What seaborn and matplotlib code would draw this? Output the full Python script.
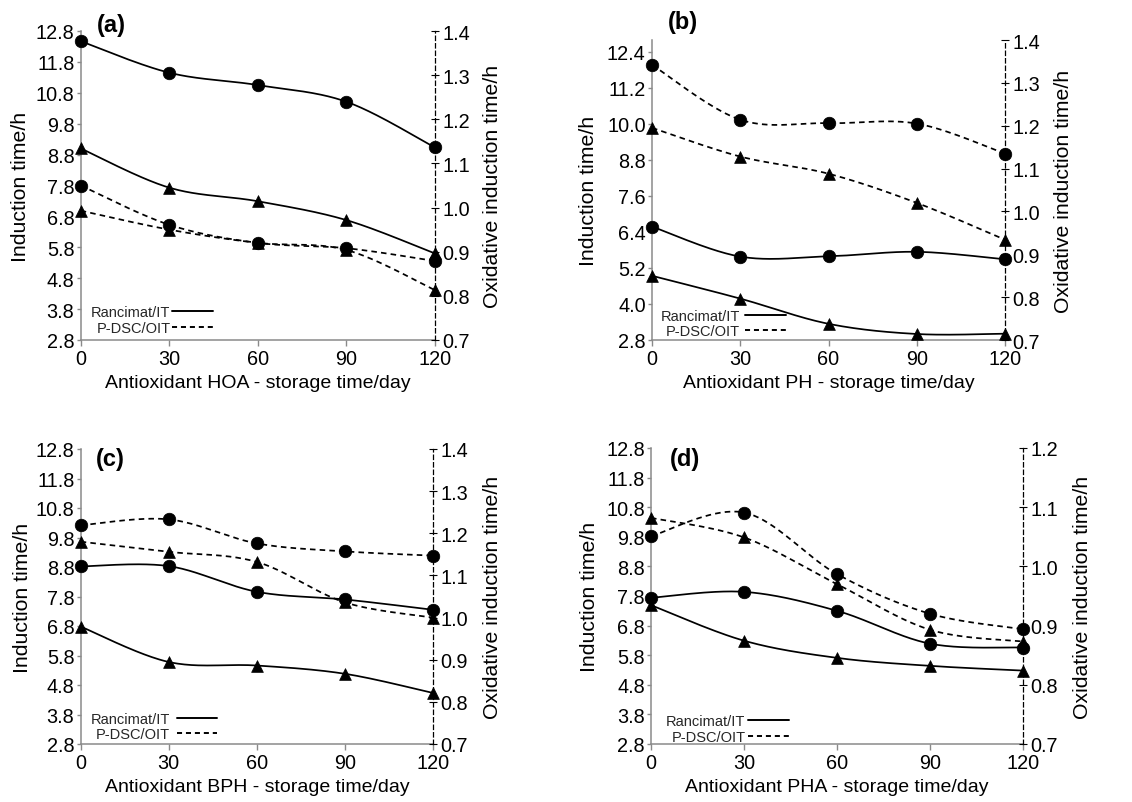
import numpy as np
import matplotlib
matplotlib.use("Agg")
import matplotlib.pyplot as plt
import seaborn as sns
from matplotlib.lines import Line2D
from matplotlib.ticker import FormatStrFormatter

# ---------------- data ----------------
days = [0, 30, 60, 90, 120]

# (a) Antioxidant HOA
hoa_it_circle = [12.47, 11.45, 11.05, 10.51, 9.03]
hoa_it_triangle = [9.00, 7.73, 7.29, 6.68, 5.60]
hoa_oit_circle = [1.050, 0.961, 0.920, 0.908, 0.879]
hoa_oit_triangle = [0.993, 0.950, 0.920, 0.904, 0.813]

# (b) Antioxidant PH
ph_it_circle = [6.58, 5.58, 5.59, 5.74, 5.49]
ph_it_triangle = [4.94, 4.18, 3.34, 3.00, 3.01]
ph_oit_circle = [1.342, 1.214, 1.206, 1.205, 1.135]
ph_oit_triangle = [1.195, 1.128, 1.088, 1.020, 0.934]

# (c) Antioxidant BPH
bph_it_circle = [8.82, 8.83, 7.96, 7.70, 7.35]
bph_it_triangle = [6.78, 5.58, 5.46, 5.18, 4.53]
bph_oit_circle = [1.219, 1.233, 1.176, 1.157, 1.147]
bph_oit_triangle = [1.180, 1.156, 1.132, 1.036, 1.000]

# (d) Antioxidant PHA
pha_it_circle = [7.74, 7.94, 7.30, 6.19, 6.06]
pha_it_triangle = [7.49, 6.29, 5.71, 5.44, 5.28]
pha_oit_circle = [1.051, 1.091, 0.987, 0.920, 0.894]
pha_oit_triangle = [1.082, 1.049, 0.970, 0.893, 0.873]

panel_letters = ["(a)", "(b)", "(c)", "(d)"]
xlabels = ["Antioxidant HOA - storage time/day",
           "Antioxidant PH - storage time/day",
           "Antioxidant BPH - storage time/day",
           "Antioxidant PHA - storage time/day"]
left_label = "Induction time/h"
right_label = "Oxidative induction time/h"
legend_labels = ["Rancimat/IT", "P-DSC/OIT"]

left_ticks_std = [2.8, 3.8, 4.8, 5.8, 6.8, 7.8, 8.8, 9.8, 10.8, 11.8, 12.8]
left_ticks_b = [2.8, 4.0, 5.2, 6.4, 7.6, 8.8, 10.0, 11.2, 12.4]
right_ticks_std = [0.7, 0.8, 0.9, 1.0, 1.1, 1.2, 1.3, 1.4]
right_ticks_d = [0.7, 0.8, 0.9, 1.0, 1.1, 1.2]

# ---------------- style ----------------
sns.set_theme(style="ticks")
plt.rcParams["font.family"] = ["Liberation Sans", "DejaVu Sans"]

TICK_FS = 14.3
XLABEL_FS = 14
YLABEL_FS = 15.3
LEG_FS = 10.5
GRAY = "#8a8a8a"
DASH = (0, (3.2, 2.4))


def smooth_curve(x, y, n=40):
    """Spreadsheet-style smoothed line (cubic Bezier through the points)."""
    P = np.column_stack([np.asarray(x, float), np.asarray(y, float)])
    E = np.vstack([P[0], P, P[-1]])
    t = np.linspace(0, 1, n)[:, None]
    segs = []
    for i in range(len(P) - 1):
        p0, p3 = P[i], P[i + 1]
        c1 = p0 + (E[i + 2] - E[i]) / 6.0
        c2 = p3 - (E[i + 3] - E[i + 1]) / 6.0
        seg = ((1 - t) ** 3) * p0 + 3 * ((1 - t) ** 2) * t * c1 \
            + 3 * (1 - t) * t ** 2 * c2 + t ** 3 * p3
        segs.append(seg if i == 0 else seg[1:])
    return np.vstack(segs)


def draw_series(ax, vals, marker, ls):
    c = smooth_curve(days, vals)
    sns.lineplot(x=c[:, 0], y=c[:, 1], ax=ax, sort=False, estimator=None,
                 color="black", linewidth=1.25, linestyle=ls, zorder=3)
    sns.scatterplot(x=days, y=vals, ax=ax, marker=marker,
                    s=82 if marker == "o" else 72, color="black",
                    edgecolor="black", linewidth=0.5, clip_on=False, zorder=5)


fig = plt.figure(figsize=(11.32, 8.03), dpi=100)
W, H = 1132.0, 803.0

# pixel boxes: left, right, top, bottom
boxes = [(80.7, 435.0, 32.0, 341.0),
         (652.0, 1005.0, 41.0, 341.0),
         (80.7, 433.0, 450.0, 745.0),
         (651.0, 1023.0, 449.0, 745.0)]

it_circles = [hoa_it_circle, ph_it_circle, bph_it_circle, pha_it_circle]
it_tris = [hoa_it_triangle, ph_it_triangle, bph_it_triangle, pha_it_triangle]
oit_circles = [hoa_oit_circle, ph_oit_circle, bph_oit_circle, pha_oit_circle]
oit_tris = [hoa_oit_triangle, ph_oit_triangle, bph_oit_triangle, pha_oit_triangle]

left_ticks = [left_ticks_std, left_ticks_b, left_ticks_std, left_ticks_std]
right_ticks = [right_ticks_std, right_ticks_std, right_ticks_std, right_ticks_d]
right_lims = [(0.7, 1.4), (0.7, 1.4), (0.7, 1.4), (0.7, 1.2)]

letter_pos = [(0.046, 1.02), (0.045, 1.06), (0.043, 0.969), (0.051, 0.966)]
legend_pos = [(0.201, 0.065), (0.201, 0.055), (0.208, 0.059), (0.206, 0.051)]
legend_pad = [0.1, 0.35, 0.45, 0.2]
ylab_left_x = [-0.143, -0.153, -0.138, -0.140]
ylab_right_x = [1.135, 1.139, 1.142, 1.134]

for k in range(4):
    l, r, t, b = boxes[k]
    ax = fig.add_axes([l / W, (H - b) / H, (r - l) / W, (b - t) / H])
    ax2 = ax.twinx()

    draw_series(ax, it_circles[k], "o", "-")
    draw_series(ax, it_tris[k], "^", "-")
    draw_series(ax2, oit_circles[k], "o", DASH)
    draw_series(ax2, oit_tris[k], "^", DASH)

    ax.set_xlim(0, 120)
    ax.set_ylim(2.8, 12.8)
    ax2.set_ylim(*right_lims[k])
    ax.set_xticks(days)
    ax.set_yticks(left_ticks[k])
    ax2.set_yticks(right_ticks[k])
    ax.yaxis.set_major_formatter(FormatStrFormatter("%.1f"))
    ax2.yaxis.set_major_formatter(FormatStrFormatter("%.1f"))

    for s in ["top", "right"]:
        ax.spines[s].set_visible(False)
    for s in ["top", "left", "bottom"]:
        ax2.spines[s].set_visible(False)
    for s in ["left", "bottom"]:
        ax.spines[s].set_color(GRAY)
        ax.spines[s].set_linewidth(1.1)
    ax2.spines["right"].set_linestyle((0, (3.5, 2.5)))
    ax2.spines["right"].set_linewidth(0.9)
    ax2.spines["right"].set_color("black")

    ax.tick_params(axis="y", direction="out", length=3, width=1, color=GRAY,
                   pad=1.5, labelsize=TICK_FS, labelcolor="black")
    ax.tick_params(axis="x", direction="out", length=4, width=1, color=GRAY,
                   pad=2.5, labelsize=TICK_FS, labelcolor="black")
    ax2.tick_params(axis="y", direction="inout", length=6, width=0.8,
                    color="black", pad=2.5, labelsize=TICK_FS,
                    labelcolor="black")

    ax.set_xlabel(xlabels[k], fontsize=XLABEL_FS, labelpad=4, color="black")
    ax.set_ylabel(left_label, fontsize=YLABEL_FS, color="black")
    ax2.set_ylabel(right_label, fontsize=YLABEL_FS, color="black")
    ax.yaxis.set_label_coords(ylab_left_x[k], 0.5)
    ax2.yaxis.set_label_coords(ylab_right_x[k], 0.5)

    ax.text(letter_pos[k][0], letter_pos[k][1], panel_letters[k],
            transform=ax.transAxes, fontsize=17, fontweight="bold",
            ha="left", va="center", color="black")

    handles = [Line2D([], [], color="black", lw=1.4, ls="-"),
               Line2D([], [], color="black", lw=1.4, ls=(0, (2.6, 2.0)))]
    ax2.legend(handles, legend_labels, loc="center",
               bbox_to_anchor=legend_pos[k], frameon=False, markerfirst=False,
               fontsize=LEG_FS, handlelength=2.8,
               handletextpad=legend_pad[k], labelspacing=0.1, borderpad=0,
               borderaxespad=0)

fig.savefig("out.png", dpi=100)
